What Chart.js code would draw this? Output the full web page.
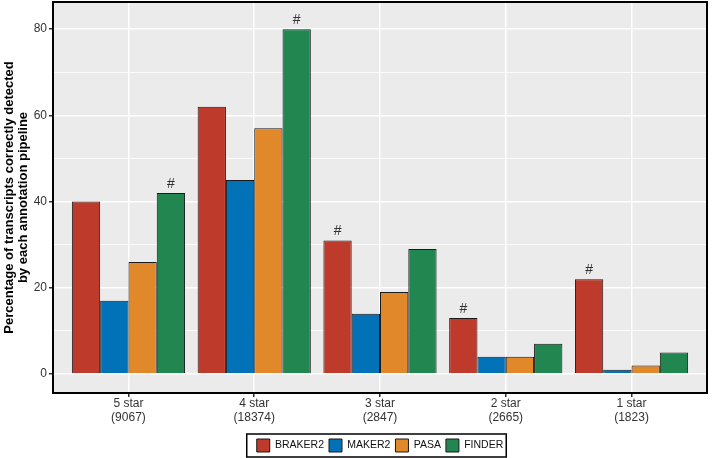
<!DOCTYPE html>
<html>
<head>
<meta charset="utf-8">
<script src="https://cdn.jsdelivr.net/npm/chart.js@4"></script>
<style>
  html, body { margin: 0; padding: 0; background: #fff; }
  #wrap { width: 712px; height: 458px; }
</style>
</head>
<body>
<div id="wrap"><canvas id="myChart"></canvas></div>
<script>
// categories (star rating + number of transcripts)
const starLabels = ['5 star', '4 star', '3 star', '2 star', '1 star'];
const transcriptCounts = ['(9067)', '(18374)', '(2847)', '(2665)', '(1823)'];

// percentage detected by each pipeline
const braker2 = [40, 62, 31, 13, 22];
const maker2 = [17, 45, 14, 4, 1];
const pasa = [26, 57, 19, 4, 2];
const finder = [42, 80, 29, 7, 5];

// which series gets a "#" in each category
const hashSeries = [3, 3, 0, 0, 0];

const yTicks = [0, 20, 40, 60, 80];

const fontFamily = '"Liberation Sans", Arial, sans-serif';

function toPoints(vals) {
  return vals.map((v, i) => ({ x: i, y: v }));
}

const panelPlugin = {
  id: 'panel',
  beforeDraw(chart) {
    const a = chart.chartArea;
    const ctx = chart.ctx;
    ctx.save();
    ctx.fillStyle = '#EBEBEB';
    ctx.fillRect(a.left, a.top, a.right - a.left, a.bottom - a.top);
    ctx.restore();
  },
  afterDatasetsDraw(chart) {
    const ctx = chart.ctx;
    const a = chart.chartArea;
    // hash marks above bars
    ctx.save();
    ctx.fillStyle = '#333';
    ctx.font = '14px ' + fontFamily;
    ctx.textAlign = 'center';
    ctx.textBaseline = 'alphabetic';
    hashSeries.forEach((ds, i) => {
      const bar = chart.getDatasetMeta(ds).data[i];
      ctx.fillText('#', bar.x, bar.y - 5);
    });
    ctx.restore();
    // panel border
    ctx.save();
    ctx.strokeStyle = '#000';
    ctx.lineWidth = 2;
    ctx.strokeRect(a.left, a.top, a.right - a.left, a.bottom - a.top);
    ctx.restore();
  },
  afterDraw(chart) {
    const boxes = chart.legend.legendHitBoxes;
    if (!boxes || !boxes.length) return;
    const ctx = chart.ctx;
    let l = Infinity, r = -Infinity, t = Infinity, b = -Infinity;
    boxes.forEach(h => {
      l = Math.min(l, h.left); r = Math.max(r, h.left + h.width);
      t = Math.min(t, h.top); b = Math.max(b, h.top + h.height);
    });
    ctx.save();
    ctx.strokeStyle = '#000';
    ctx.lineWidth = 1.5;
    ctx.strokeRect(l - 10, t - 5, r - l + 13, b - t + 10);
    ctx.restore();
  }
};

const data = {
  datasets: [
    { label: 'BRAKER2', data: toPoints(braker2), backgroundColor: '#BE3A2A' },
    { label: 'MAKER2', data: toPoints(maker2), backgroundColor: '#0171B8' },
    { label: 'PASA', data: toPoints(pasa), backgroundColor: '#E1882A' },
    { label: 'FINDER', data: toPoints(finder), backgroundColor: '#218650' }
  ].map(d => Object.assign(d, {
    borderColor: '#1a1a1a',
    borderWidth: 1,
    categoryPercentage: 0.9,
    barPercentage: 1.0
  }))
};

const config = {
  type: 'bar',
  data: data,
  plugins: [panelPlugin],
  options: {
    responsive: true,
    maintainAspectRatio: false,
    animation: false,
    layout: { padding: { top: 2, right: 5, bottom: -4, left: 0 } },
    plugins: {
      tooltip: { enabled: false },
      legend: {
        position: 'bottom',
        fullSize: false,
        labels: {
          color: '#111',
          boxWidth: 13,
          boxHeight: 13,
          padding: 5,
          font: { family: fontFamily, size: 10.5 }
        }
      }
    },
    scales: {
      x: {
        type: 'linear',
        min: -0.6,
        max: 4.6,
        offset: false,
        afterFit(scale) {
          scale.height = 41;
          scale.paddingLeft = 0;
          scale.paddingRight = 0;
        },
        grid: {
          offset: false,
          color: '#ffffff',
          lineWidth: 1.5,
          tickColor: '#333',
          tickLength: 4
        },
        border: { display: false },
        ticks: {
          stepSize: 1,
          includeBounds: false,
          autoSkip: false,
          maxRotation: 0,
          padding: 0,
          color: '#333',
          font: { family: fontFamily, size: 12, lineHeight: 1.15 },
          callback: (v) => Number.isInteger(v) ? [starLabels[v], transcriptCounts[v]] : ''
        }
      },
      y: {
        min: -4.4,
        max: 86.3,
        afterFit(scale) {
          scale.width = 53;
          scale.paddingTop = 0;
          scale.paddingBottom = 0;
        },
        grid: {
          color: '#ffffff',
          lineWidth: (c) => (c.tick && yTicks.includes(c.tick.value)) ? 1.5 : 0.8,
          tickColor: (c) => (c.tick && yTicks.includes(c.tick.value)) ? '#333' : 'rgba(0,0,0,0)',
          tickLength: 4
        },
        border: { display: false },
        ticks: {
          stepSize: 10,
          includeBounds: false,
          padding: 2,
          color: '#333',
          font: { family: fontFamily, size: 12 },
          callback: (v) => yTicks.includes(v) ? v : ''
        },
        title: {
          display: true,
          text: ['Percentage of transcripts correctly detected', 'by each annotation pipeline'],
          color: '#000',
          padding: { top: 2, bottom: 0 },
          font: { family: fontFamily, size: 13, weight: 'bold', lineHeight: 1.1 }
        }
      }
    }
  }
};

const canvasChart = document.getElementById('myChart');
const myChart = new Chart(canvasChart, config);
</script>
</body>
</html>
